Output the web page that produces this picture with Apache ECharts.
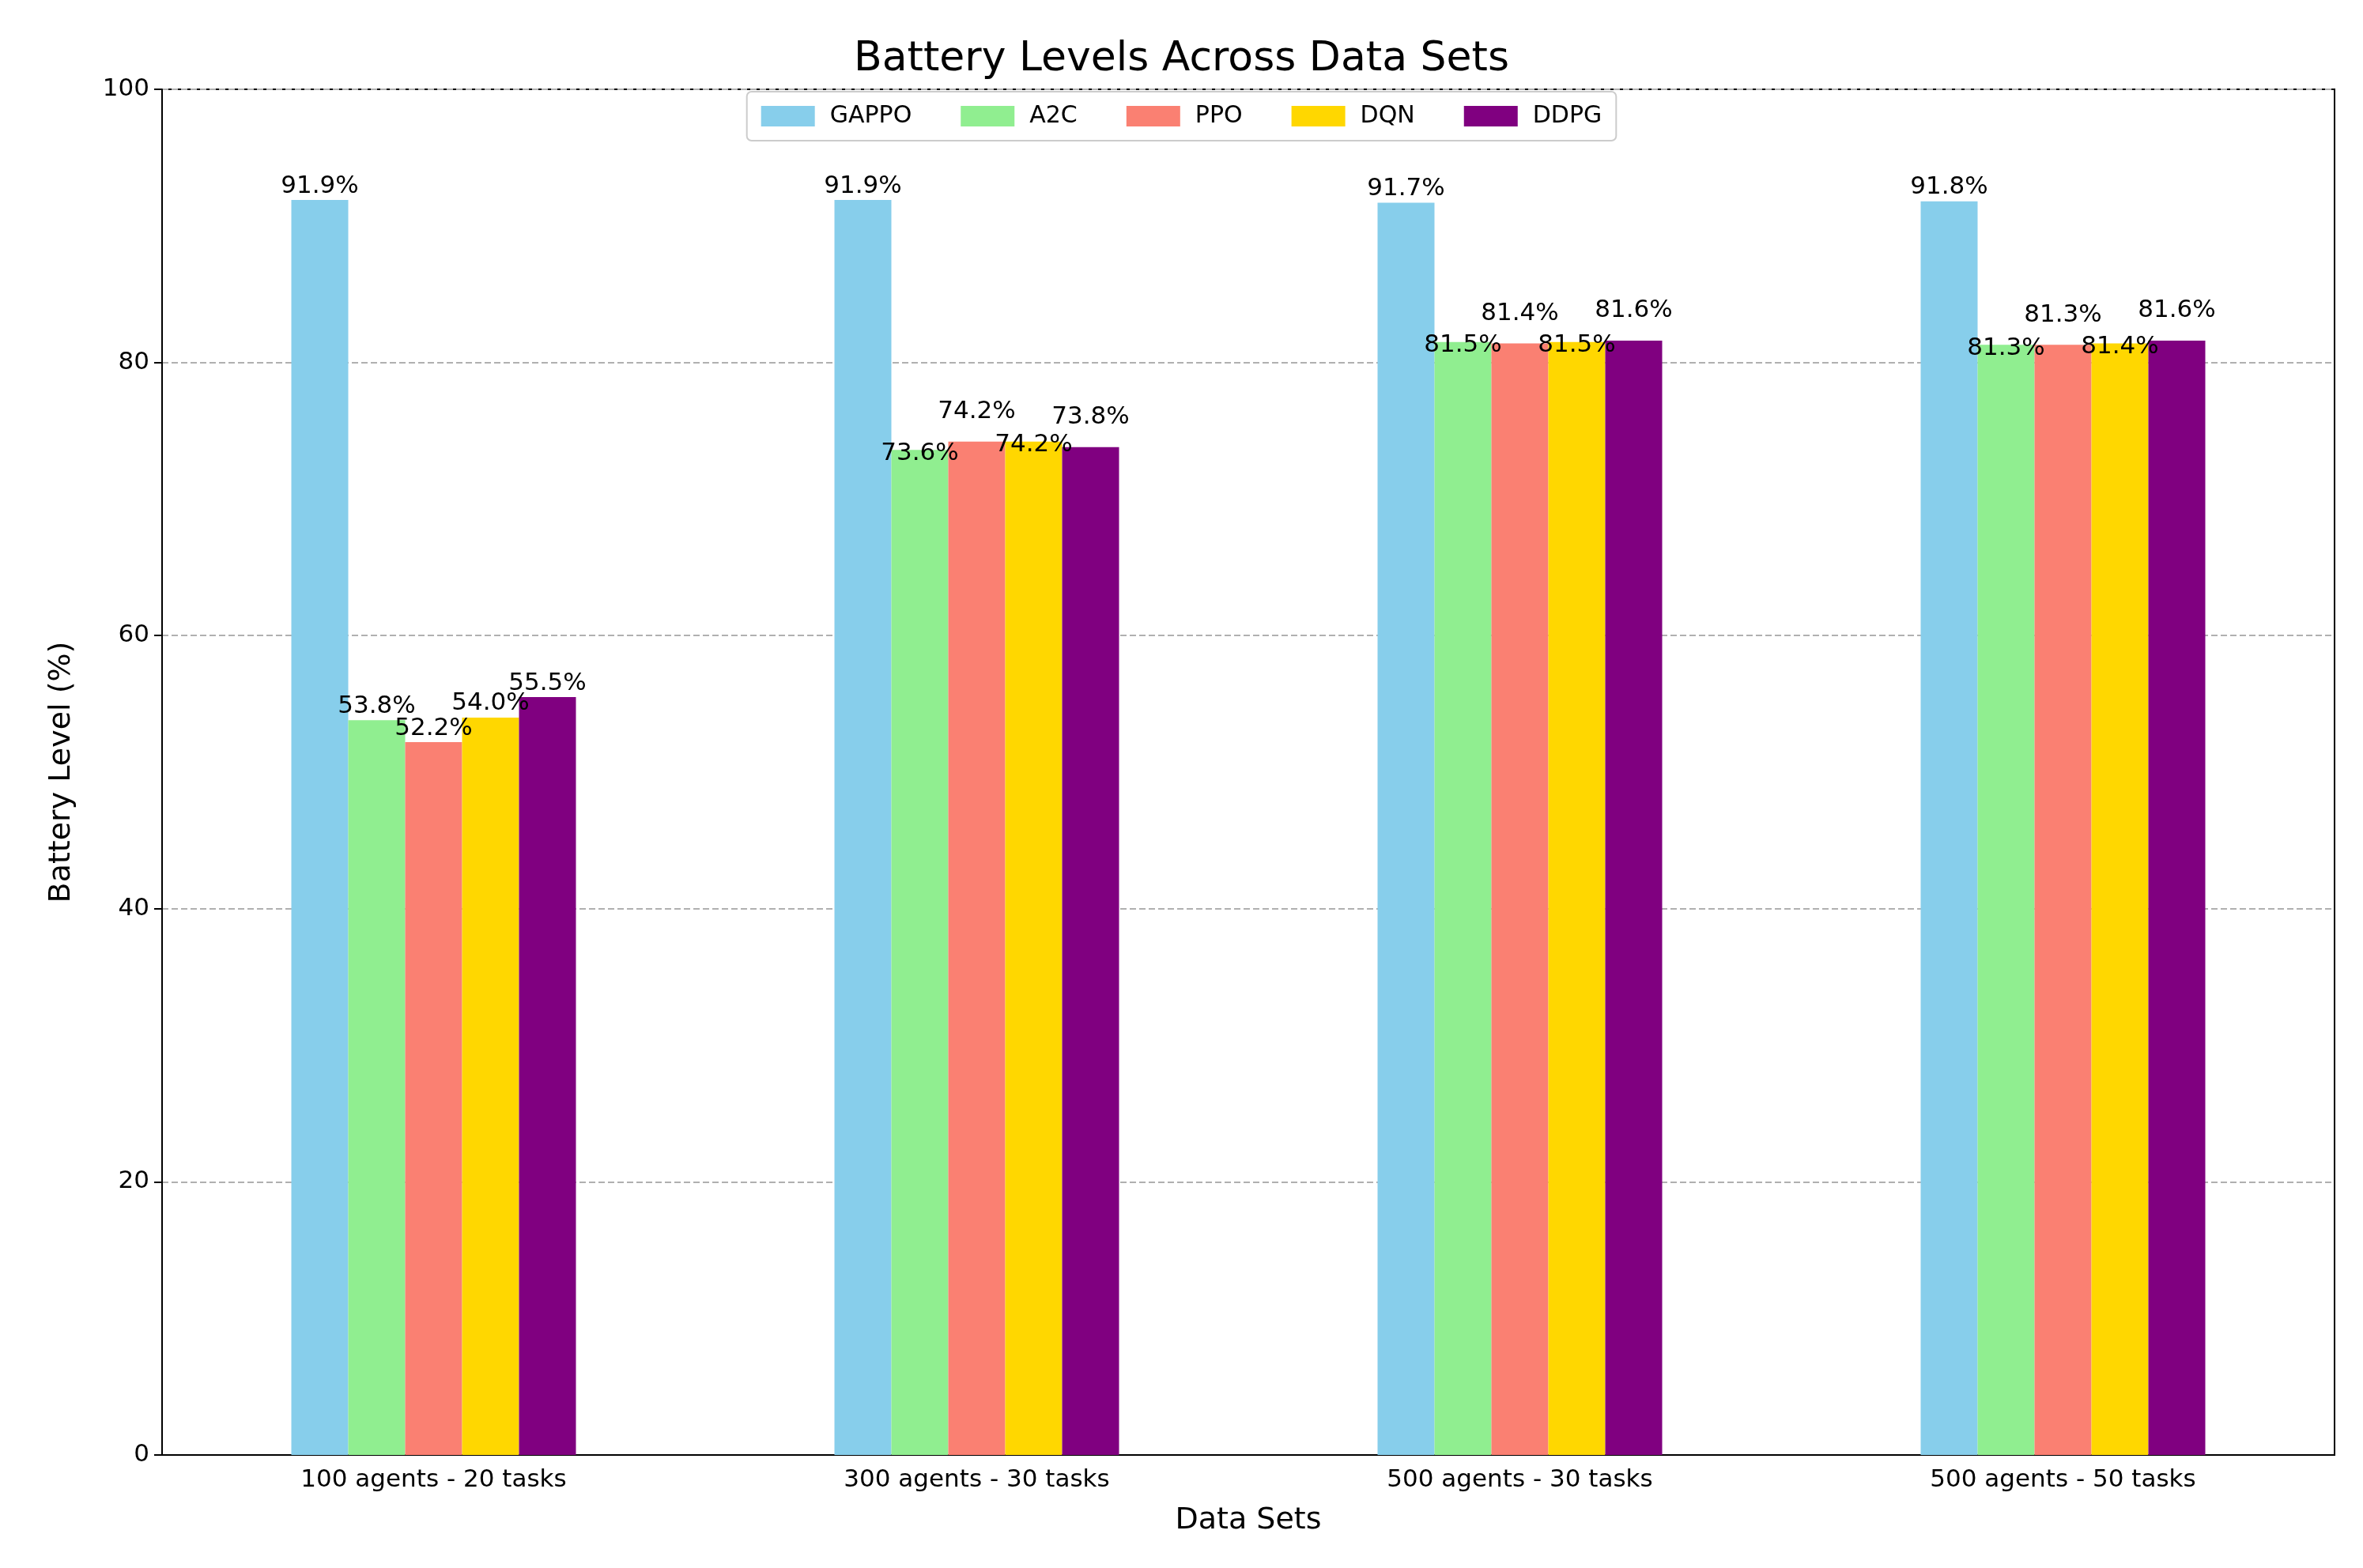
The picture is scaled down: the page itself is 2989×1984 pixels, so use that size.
<!DOCTYPE html>
<html><head><meta charset="utf-8">
<script src="https://cdn.jsdelivr.net/npm/echarts@6/dist/echarts.min.js"></script>
<style>html,body{margin:0;background:#fff}#c{width:2989px;height:1984px}</style>
</head><body><div id="c"></div>
<script>
const categories = ['100 agents - 20 tasks','300 agents - 30 tasks','500 agents - 30 tasks','500 agents - 50 tasks'];
const seriesNames = ['GAPPO','A2C','PPO','DQN','DDPG'];
const colors = ['#87CEEB','#90EE90','#FA8072','#FFD700','#800080'];
const GAPPO = [91.9,91.9,91.7,91.8];
const A2C = [53.8,73.6,81.5,81.3];
const PPO = [52.2,74.2,81.4,81.3];
const DQN = [54.0,74.2,81.5,81.4];
const DDPG = [55.5,73.8,81.6,81.6];
const values = [GAPPO,A2C,PPO,DQN,DDPG];
const yTicks = [0,20,40,60,80,100];

// label distance tweaks (style only) to mimic staggered labels of the reference
function labelDist(si, ci){
  if (ci === 0 || si === 0) return 2;
  if (si === 1 || si === 3) return -20;
  return 22;
}

const chart = echarts.init(document.getElementById('c'));
const font = 'DejaVu Sans';
chart.setOption({
  animation:false,
  textStyle:{fontFamily:font},
  title:{text:'Battery Levels Across Data Sets',left:'center',top:44,textStyle:{fontSize:52,fontWeight:'normal',color:'#000',fontFamily:font}},
  legend:{data:seriesNames,top:116,left:'center',icon:'rect',itemWidth:68,itemHeight:26,itemGap:62,padding:[16,18],
    borderColor:'#ccc',borderWidth:2,borderRadius:6,backgroundColor:'#fff',
    textStyle:{fontSize:30,color:'#000',fontFamily:font,padding:[0,0,0,14]}},
  grid:{left:205,right:36,top:113,bottom:143,show:true,borderColor:'#000',borderWidth:2,containLabel:false},
  xAxis:{type:'category',data:categories,name:'Data Sets',nameLocation:'middle',nameGap:64,
    nameTextStyle:{fontSize:38,color:'#000'},
    axisLine:{lineStyle:{color:'#000',width:2}},axisTick:{alignWithLabel:true,length:10,lineStyle:{color:'#000',width:2}},
    axisLabel:{fontSize:31,color:'#000',margin:16}},
  yAxis:{type:'value',min:yTicks[0],max:yTicks[yTicks.length-1],interval:20,name:'Battery Level (%)',nameLocation:'middle',nameGap:108,
    nameTextStyle:{fontSize:38,color:'#000'},
    axisLine:{show:true,lineStyle:{color:'#000',width:2}},axisTick:{show:true,length:10,lineStyle:{color:'#000',width:2}},
    axisLabel:{fontSize:31,color:'#000',margin:16},
    splitLine:{lineStyle:{color:'#b0b0b0',type:[8,4],width:2}}},
  series:seriesNames.map((n,i)=>({name:n,type:'bar',barWidth:72,barGap:'0%',
    data:values[i].map((v,ci)=>({value:v,label:{distance:labelDist(i,ci)}})),
    itemStyle:{color:colors[i]},
    label:{show:true,position:'top',formatter:p=>p.value.toFixed(1)+'%',fontSize:31,color:'#000'}}))
});
</script></body></html>
